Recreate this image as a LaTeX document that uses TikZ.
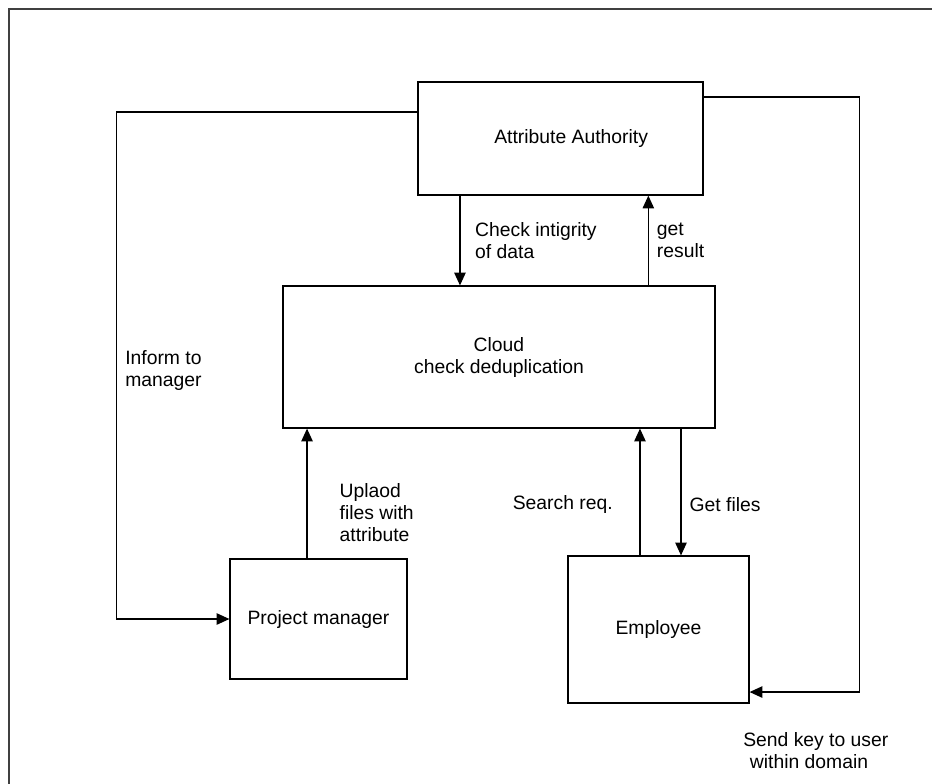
\documentclass[tikz,border=0pt]{standalone}
\usepackage{fontspec}
\setmainfont{Liberation Sans}
\usetikzlibrary{arrows.meta}

\begin{document}
\begin{tikzpicture}[
    x=0.75pt,y=-0.75pt,
    box/.style={draw,line width=0.9pt,align=center,inner sep=0pt,
        font=\fontsize{14.5}{16.5}\selectfont},
    lbl/.style={align=left,inner sep=0pt,font=\fontsize{14.5}{16.5}\selectfont},
    arrow/.style={-{Triangle[length=9.5pt,width=8.5pt]},line width=0.9pt}
]
\useasboundingbox (0,0) rectangle (932,783);
\draw[line width=1.3pt,draw=black!75] (9,800) -- (9,9) -- (950,9);

\node[box,minimum width=213.75pt,minimum height=84.75pt] (aa) at (560.5,138.5)
    {\hspace*{16pt}Attribute Authority};
\node[box,minimum width=324pt,minimum height=106.5pt] (cloud) at (499,357)
    {Cloud\\check deduplication};
\node[box,minimum width=132.75pt,minimum height=90pt] (pm) at (318.5,619)
    {Project manager};
\node[box,minimum width=135.75pt,minimum height=110.25pt] (emp) at (658.5,629.5)
    {Employee};

\draw[arrow] ([xshift=-75.4pt]aa.south) -- ([xshift=-75.4pt]aa.south |- cloud.north)
    node[lbl,midway,right=11pt] {Check intigrity\\of data};
\draw[arrow] ([xshift=112pt]cloud.north) -- ([xshift=112pt]cloud.north |- aa.south)
    node[lbl,midway,right=6pt] {get\\result};
\draw[arrow] ([yshift=19.9pt]aa.west) -| ([xshift=-84.75pt]pm.west) -- (pm.west);
\draw[arrow] ([xshift=-8.6pt]pm.north) -- ([xshift=-8.6pt]pm.north |- cloud.south)
    node[lbl,pos=0.35,right=24pt] {Uplaod\\files with\\attribute};
\draw[arrow] ([xshift=-13.9pt]emp.north) -- ([xshift=-13.9pt]emp.north |- cloud.south)
    node[lbl,pos=0.4,left=20pt] {Search req.};
\draw[arrow] ([xshift=136.5pt]cloud.south) -- ([xshift=136.5pt]cloud.south |- emp.north)
    node[lbl,pos=0.6,right=6pt] {Get files};
\draw[arrow] ([yshift=31.1pt]aa.east) -| ([xshift=82.5pt,yshift=-46.9pt]emp.east)
    -- ([yshift=-46.9pt]emp.east);

\node[lbl,anchor=west] (inform) at (125,371) {Inform to\\manager};
\node[lbl,anchor=west] (sendkey) at (743,751) {Send key to user\\\hspace*{5pt}within domain};
\end{tikzpicture}
\end{document}
